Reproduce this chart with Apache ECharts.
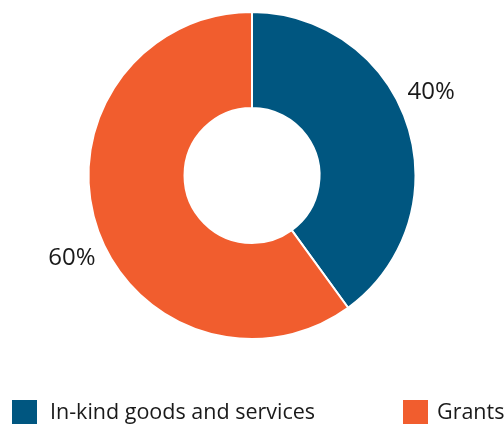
<!DOCTYPE html>
<html>
<head>
<meta charset="utf-8">
<script src="https://cdn.jsdelivr.net/npm/echarts@6/dist/echarts.min.js"></script>
<style>html,body{margin:0;padding:0;background:#fff;}#c{width:504px;height:424px;}</style>
</head>
<body>
<div id="c"></div>
<script>
const categories = ['In-kind goods and services', 'Grants'];
const values = [40, 60];
const colors = ['#005680', '#f15d2e'];

const chart = echarts.init(document.getElementById('c'), null, {renderer: 'canvas'});
const font = '"Open Sans", "Noto Sans", sans-serif';
function legendFor(i, left, gap) {
  return {
    data: [categories[i]], left: left, top: 400,
    itemWidth: 25, itemHeight: 25, icon: 'rect', padding: 0,
    itemStyle: {borderWidth: 0},
    textStyle: {fontFamily: font, fontSize: 21.5, color: '#1a1a1a', padding: [0, 0, 0, gap]}
  };
}
chart.setOption({
  animation: false,
  legend: [legendFor(0, 12, 8), legendFor(1, 403, 4)],
  series: [{
    type: 'pie',
    center: [252, 175.5],
    radius: [67.5, 163.5],
    startAngle: 90,
    clockwise: true,
    itemStyle: {borderColor: '#fff', borderWidth: 2},
    label: {show: true, position: 'outside', formatter: '{c}%', fontFamily: font, fontSize: 24, color: '#1a1a1a'},
    labelLine: {show: false, length: 0, length2: 0},
    labelLayout: function (p) {
      return p.dataIndex === 0 ? {dx: -5, dy: -33} : {dx: 4, dy: 32};
    },
    emphasis: {disabled: true},
    data: categories.map((n, i) => ({name: n, value: values[i], itemStyle: {color: colors[i]}}))
  }]
});
</script>
</body>
</html>
